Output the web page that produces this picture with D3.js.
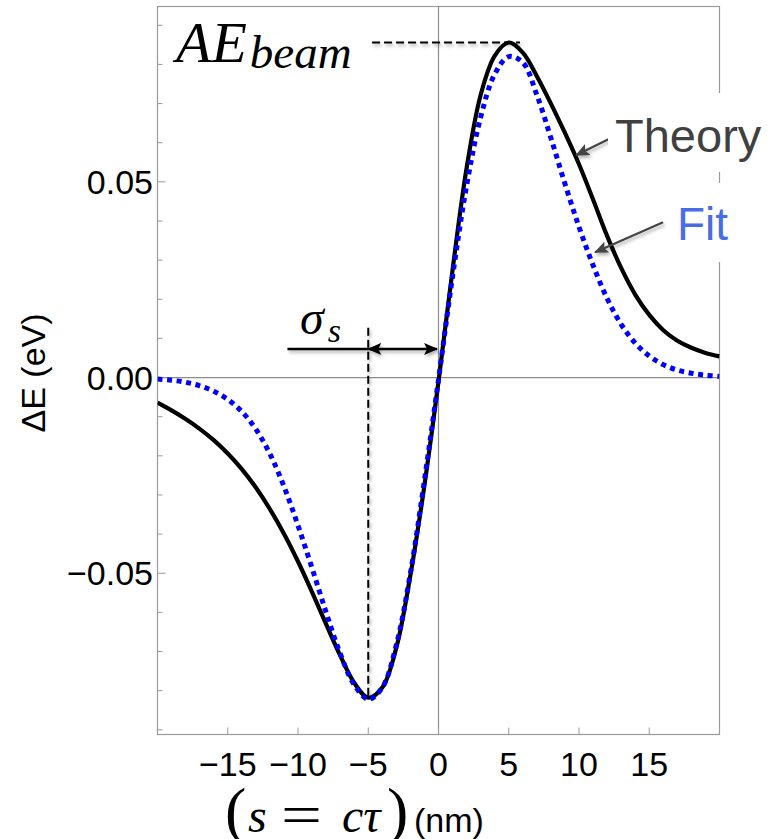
<!DOCTYPE html>
<html>
<head>
<meta charset="utf-8">
<script src="https://cdn.jsdelivr.net/npm/d3@7/dist/d3.min.js"></script>
<style>
  body { margin: 0; background: #fff; }
  svg { display: block; }
</style>
</head>
<body>
<div id="chart"></div>
<script>
// s = c*tau in nm, sampled every 1 nm
const sNm = [-20,-19,-18,-17,-16,-15,-14,-13,-12,-11,-10,-9,-8,-7,-6,-5,-4,-3,-2,-1,0,
             1,2,3,4,5,6,7,8,9,10,11,12,13,14,15,16,17,18,19,20];
// energy change (eV)
const theory = [-0.0064,-0.0084,-0.0106,-0.0131,-0.0160,-0.0194,-0.0234,-0.0281,-0.0336,-0.0399,
                -0.0470,-0.0548,-0.0630,-0.0710,-0.0780,-0.0818,-0.0792,-0.0690,-0.0505,-0.0275,
                -0.0010,0.0275,0.0535,0.0722,0.0822,0.0856,0.0830,0.0770,0.0700,0.0625,
                0.0545,0.0455,0.0362,0.0280,0.0212,0.0160,0.0121,0.0094,0.0076,0.0063,0.0054];
const fit = [-0.0004,-0.0007,-0.0012,-0.0021,-0.0035,-0.0056,-0.0087,-0.0132,-0.0195,-0.0278,
             -0.0378,-0.0487,-0.0600,-0.0705,-0.0785,-0.0822,-0.0792,-0.0683,-0.0500,-0.0262,
             -0.0005,0.0258,0.0490,0.0665,0.0775,0.0820,0.0805,0.0722,0.0612,0.0495,
             0.0385,0.0287,0.0202,0.0136,0.0088,0.0055,0.0033,0.0019,0.0011,0.0006,0.0003];
const xTicks = [-15,-10,-5,0,5,10,15];
const yMajor = [-0.05,0,0.05];
const yMinor = [-0.09,-0.08,-0.07,-0.06,-0.04,-0.03,-0.02,-0.01,0.01,0.02,0.03,0.04,0.06,0.07,0.08,0.09];
const sigmaS = -5;

const W = 769, H = 839;
const pLeft = 157.5, pRight = 719.5, pTop = 6.5, pBottom = 734.5;

const x = d3.scaleLinear().domain([-20, 20]).range([pLeft, pRight]);
const y = d3.scaleLinear().domain([-0.0912, 0.0948]).range([pBottom, pTop]);

const svg = d3.select("#chart").append("svg")
    .attr("width", W).attr("height", H)
    .style("background", "#fff");

const defs = svg.append("defs");
defs.append("clipPath").attr("id", "plotclip")
  .append("rect").attr("x", pLeft).attr("y", pTop).attr("width", pRight - pLeft).attr("height", pBottom - pTop);
defs.append("filter").attr("id", "shadow").attr("x", "-20%").attr("y", "-50%").attr("width", "140%").attr("height", "200%")
  .append("feDropShadow").attr("dx", 1.5).attr("dy", 2.5).attr("stdDeviation", 1.5)
  .attr("flood-color", "#000").attr("flood-opacity", 0.3);

function marker(id, color) {
  defs.append("marker").attr("id", id)
    .attr("markerUnits", "userSpaceOnUse")
    .attr("viewBox", "0 0 14 12").attr("refX", 13).attr("refY", 6)
    .attr("markerWidth", 14).attr("markerHeight", 12)
    .attr("orient", "auto-start-reverse")
    .append("path").attr("d", "M0,0 L14,6 L0,12 L3,6 Z").attr("fill", color);
}
marker("arrBlack", "#000");
marker("arrGray", "#444");

// frame
svg.append("rect")
  .attr("x", pLeft).attr("y", pTop).attr("width", pRight - pLeft).attr("height", pBottom - pTop)
  .attr("fill", "none").attr("stroke", "#9a9a9a").attr("stroke-width", 1.2);

// zero axes
svg.append("line").attr("x1", pLeft).attr("x2", pRight).attr("y1", y(0)).attr("y2", y(0))
  .attr("stroke", "#8c8c8c").attr("stroke-width", 1.2);
svg.append("line").attr("x1", x(0)).attr("x2", x(0)).attr("y1", pTop).attr("y2", pBottom)
  .attr("stroke", "#8c8c8c").attr("stroke-width", 1.2);

// ticks (inward)
svg.append("g").selectAll("line").data(yMinor).join("line")
  .attr("x1", pLeft).attr("x2", pLeft + 5).attr("y1", d => y(d)).attr("y2", d => y(d))
  .attr("stroke", "#9a9a9a").attr("stroke-width", 1);
svg.append("g").selectAll("line").data(yMajor).join("line")
  .attr("x1", pLeft).attr("x2", pLeft + 8).attr("y1", d => y(d)).attr("y2", d => y(d))
  .attr("stroke", "#9a9a9a").attr("stroke-width", 1);
svg.append("g").selectAll("line").data(xTicks).join("line")
  .attr("x1", d => x(d)).attr("x2", d => x(d)).attr("y1", pBottom).attr("y2", pBottom - 7)
  .attr("stroke", "#9a9a9a").attr("stroke-width", 1);

const fmtY = d => (d < 0 ? "\u2212" : "") + Math.abs(d).toFixed(2);
const fmtX = d => (d < 0 ? "\u2212" : "") + Math.abs(d);

svg.append("g").selectAll("text").data(yMajor).join("text")
  .attr("x", 153).attr("y", d => y(d)).attr("dy", "0.36em")
  .attr("text-anchor", "end")
  .style("font", "34px 'Liberation Sans', Arial, sans-serif")
  .text(fmtY);
svg.append("g").selectAll("text").data(xTicks).join("text")
  .attr("x", d => x(d)).attr("y", 776)
  .attr("text-anchor", "middle")
  .style("font", "34px 'Liberation Sans', Arial, sans-serif")
  .text(fmtX);

// y label
svg.append("text")
  .attr("transform", "translate(45,373) rotate(-90)")
  .attr("text-anchor", "middle")
  .style("font", "34px 'Liberation Sans', Arial, sans-serif")
  .text("\u0394E (eV)");

// x label
const xl = svg.append("g").style("font-family", "'Liberation Serif', 'Times New Roman', serif");
xl.append("text").attr("x", 225).attr("y", 832).style("font-size", "64px").text("(");
xl.append("text").attr("x", 248).attr("y", 832).style("font-size", "48px").style("font-style", "italic").text("s");
xl.append("text").attr("x", 281).attr("y", 834).style("font-size", "56px")
  .attr("textLength", 41).attr("lengthAdjust", "spacingAndGlyphs").text("=");
xl.append("text").attr("x", 342).attr("y", 832).style("font-size", "48px").style("font-style", "italic").text("c\u03C4");
xl.append("text").attr("x", 387).attr("y", 832).style("font-size", "64px").text(")");
svg.append("text").attr("x", 414).attr("y", 832)
  .style("font", "34px 'Liberation Sans', Arial, sans-serif").text("(nm)");

// curves
const line = d3.line().x((d, i) => x(sNm[i])).y(d => y(d)).curve(d3.curveCatmullRom);
const plot = svg.append("g").attr("clip-path", "url(#plotclip)");
plot.append("path").datum(theory).attr("d", line)
  .attr("fill", "none").attr("stroke", "#000").attr("stroke-width", 4.2);
plot.append("path").datum(fit).attr("d", line)
  .attr("fill", "none").attr("stroke", "#0000ff").attr("stroke-width", 5)
  .attr("stroke-dasharray", "5,4.6");

// annotations
const ann = svg.append("g").attr("filter", "url(#shadow)");
const peak = d3.max(theory);
ann.append("line").attr("x1", x(-4.73)).attr("x2", x(5.8)).attr("y1", y(peak)).attr("y2", y(peak))
  .attr("stroke", "#000").attr("stroke-width", 2).attr("stroke-dasharray", "8,4");
ann.append("line").attr("x1", x(sigmaS)).attr("x2", x(sigmaS)).attr("y1", y(0.0127)).attr("y2", y(-0.0822))
  .attr("stroke", "#000").attr("stroke-width", 2).attr("stroke-dasharray", "8,4");
ann.append("line").attr("x1", x(-10.75)).attr("x2", x(sigmaS)).attr("y1", y(0.0073)).attr("y2", y(0.0073))
  .attr("stroke", "#000").attr("stroke-width", 2.5);
ann.append("line").attr("x1", x(sigmaS)).attr("x2", x(-0.1)).attr("y1", y(0.0073)).attr("y2", y(0.0073))
  .attr("stroke", "#000").attr("stroke-width", 2.5)
  .attr("marker-start", "url(#arrBlack)").attr("marker-end", "url(#arrBlack)");

// AE_beam label
const ae = svg.append("text").attr("x", 176).attr("y", 62)
  .style("font-family", "'Liberation Serif', 'Times New Roman', serif").style("font-style", "italic");
ae.append("tspan").style("font-size", "58px").text("AE");
ae.append("tspan").attr("dx", 3).attr("dy", 6).style("font-size", "47px").text("beam");

// sigma_s label
const sg = svg.append("text").attr("x", 300).attr("y", 334)
  .style("font-family", "'Liberation Serif', 'Times New Roman', serif").style("font-style", "italic");
sg.append("tspan").style("font-size", "48px").text("\u03C3");
sg.append("tspan").attr("dx", 4).attr("dy", 8).style("font-size", "34px").text("s");

// Theory / Fit labels with white boxes
svg.append("rect").attr("x", 608).attr("y", 93).attr("width", 161).attr("height", 79).attr("fill", "#fff");
svg.append("rect").attr("x", 668).attr("y", 183).attr("width", 80).attr("height", 79).attr("fill", "#fff");
svg.append("text").attr("x", 615).attr("y", 152)
  .style("font", "47px 'Liberation Sans', Arial, sans-serif").attr("fill", "#404040").text("Theory");
svg.append("text").attr("x", 677).attr("y", 240)
  .style("font", "46px 'Liberation Sans', Arial, sans-serif").attr("fill", "#4a6de5").text("Fit");

ann.append("line").attr("x1", x(12.56)).attr("y1", y(0.0617)).attr("x2", x(9.79)).attr("y2", y(0.0568))
  .attr("stroke", "#444").attr("stroke-width", 2.2).attr("marker-end", "url(#arrGray)");
ann.append("line").attr("x1", x(15.98)).attr("y1", y(0.0397)).attr("x2", x(11.14)).attr("y2", y(0.0320))
  .attr("stroke", "#444").attr("stroke-width", 2.2).attr("marker-end", "url(#arrGray)");
</script>
</body>
</html>
